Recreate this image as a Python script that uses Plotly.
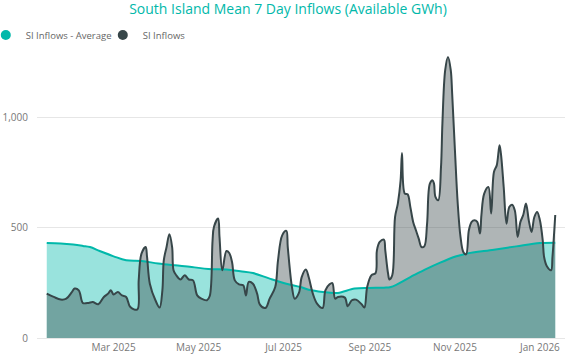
import plotly.graph_objects as go

# ---- data ----
inflow_dates = [
    "2025-01-12", "2025-01-17", "2025-01-22", "2025-01-26", "2025-01-30", "2025-02-01",
    "2025-02-04", "2025-02-06", "2025-02-07", "2025-02-11", "2025-02-14", "2025-02-18",
    "2025-02-22", "2025-02-25", "2025-02-27", "2025-03-01", "2025-03-04", "2025-03-07",
    "2025-03-10", "2025-03-13", "2025-03-18", "2025-03-19", "2025-03-21", "2025-03-24",
    "2025-03-25", "2025-03-27", "2025-03-31", "2025-04-03", "2025-04-05", "2025-04-06",
    "2025-04-08", "2025-04-10", "2025-04-12", "2025-04-13", "2025-04-15", "2025-04-18",
    "2025-04-21", "2025-04-24", "2025-04-27", "2025-04-30", "2025-05-03", "2025-05-07",
    "2025-05-09", "2025-05-11", "2025-05-12", "2025-05-15", "2025-05-16", "2025-05-18",
    "2025-05-21", "2025-05-23", "2025-05-25", "2025-05-27", "2025-05-30", "2025-06-02",
    "2025-06-04", "2025-06-06", "2025-06-09", "2025-06-12", "2025-06-14", "2025-06-18",
    "2025-06-21", "2025-06-25", "2025-06-27", "2025-06-30", "2025-07-03", "2025-07-04",
    "2025-07-07", "2025-07-09", "2025-07-12", "2025-07-14", "2025-07-17", "2025-07-19",
    "2025-07-22", "2025-07-25", "2025-07-29", "2025-07-31", "2025-08-03", "2025-08-05",
    "2025-08-07", "2025-08-09", "2025-08-14", "2025-08-16", "2025-08-19", "2025-08-22",
    "2025-08-26", "2025-08-28", "2025-08-30", "2025-09-02", "2025-09-05", "2025-09-06",
    "2025-09-08", "2025-09-11", "2025-09-12", "2025-09-14", "2025-09-15", "2025-09-17",
    "2025-09-19", "2025-09-21", "2025-09-23", "2025-09-24", "2025-09-26", "2025-09-28",
    "2025-09-30", "2025-10-02", "2025-10-04", "2025-10-06", "2025-10-08", "2025-10-10",
    "2025-10-12", "2025-10-14", "2025-10-16", "2025-10-17", "2025-10-18", "2025-10-20",
    "2025-10-22", "2025-10-23", "2025-10-25", "2025-10-27", "2025-10-29", "2025-10-30",
    "2025-11-01", "2025-11-03", "2025-11-05", "2025-11-07", "2025-11-09", "2025-11-11",
    "2025-11-13", "2025-11-15", "2025-11-17", "2025-11-19", "2025-11-20", "2025-11-22",
    "2025-11-25", "2025-11-27", "2025-11-29", "2025-12-01", "2025-12-03", "2025-12-04",
    "2025-12-06", "2025-12-08", "2025-12-10", "2025-12-12", "2025-12-14", "2025-12-16",
    "2025-12-18", "2025-12-20", "2025-12-22", "2025-12-24", "2025-12-26", "2025-12-28",
    "2025-12-30", "2026-01-01", "2026-01-03", "2026-01-04", "2026-01-06", "2026-01-09",
    "2026-01-10", "2026-01-12",
]
inflow_values = [
    201, 186, 174, 178, 208, 224,
    216, 171, 158, 159, 163, 153,
    186, 201, 216, 197, 208, 193,
    186, 140, 129, 261, 382, 412,
    367, 246, 171, 138, 216, 352,
    412, 470, 412, 307, 284, 265,
    284, 265, 261, 193, 178, 171,
    190, 440, 503, 541, 458, 307,
    394, 385, 344, 261, 243, 239,
    193, 254, 246, 201, 151, 136,
    178, 231, 352, 465, 485, 412,
    231, 178, 204, 276, 310, 276,
    201, 156, 136, 216, 243, 249,
    178, 186, 183, 144, 171, 174,
    153, 138, 231, 284, 294, 397,
    435, 446, 397, 292, 265, 284,
    548, 609, 714, 838, 654, 651,
    593, 526, 488, 450, 412, 415,
    518, 699, 714, 699, 639, 624,
    775, 971, 1213, 1273, 1213, 1107,
    850, 609, 458, 390, 379, 488,
    526, 533, 526, 473, 557, 654,
    684, 564, 752, 782, 873, 835,
    684, 518, 593, 604, 578, 458,
    526, 557, 609, 533, 480, 548,
    571, 533, 443, 367, 325, 307,
    367, 557,
]

avg_dates = [
    "2025-01-12", "2025-01-22", "2025-01-31", "2025-02-07", "2025-02-12", "2025-02-19",
    "2025-03-01", "2025-03-10", "2025-03-21", "2025-04-02", "2025-04-14", "2025-04-26",
    "2025-05-08", "2025-05-21", "2025-05-31", "2025-06-09", "2025-06-21", "2025-07-03",
    "2025-07-13", "2025-07-21", "2025-08-02", "2025-08-09", "2025-08-21", "2025-08-31",
    "2025-09-11", "2025-09-16", "2025-09-30", "2025-10-12", "2025-10-21", "2025-11-02",
    "2025-11-09", "2025-11-29", "2025-12-15", "2026-01-01", "2026-01-12",
]
avg_values = [
    430, 428, 423, 417, 412, 394,
    370, 352, 349, 337, 329, 322,
    312, 310, 302, 294, 269, 246,
    231, 216, 206, 204, 224, 227,
    228, 231, 276, 314, 340, 370,
    382, 400, 415, 430, 432,
]

series_names = ["SI Inflows - Average", "SI Inflows"]
title_text = "South Island Mean 7 Day Inflows (Available GWh)"

TEAL = "#01B8AA"
DARK = "#374649"
FONT = "Open Sans"

fig = go.Figure()
# fills
fig.add_trace(go.Scatter(x=avg_dates, y=avg_values, mode="lines", fill="tozeroy",
                         fillcolor="rgba(1,184,170,0.4)", line=dict(width=0, shape="spline"),
                         showlegend=False, hoverinfo="skip"))
fig.add_trace(go.Scatter(x=inflow_dates, y=inflow_values, mode="lines", fill="tozeroy",
                         fillcolor="rgba(55,70,73,0.4)", line=dict(width=0, shape="spline"),
                         showlegend=False, hoverinfo="skip"))
# lines
fig.add_trace(go.Scatter(x=avg_dates, y=avg_values, mode="lines",
                         line=dict(color=TEAL, width=2, shape="spline"),
                         name=series_names[0], showlegend=False))
fig.add_trace(go.Scatter(x=inflow_dates, y=inflow_values, mode="lines",
                         line=dict(color=DARK, width=2, shape="spline"),
                         name=series_names[1], showlegend=False))
# legend entries
for nm, col in zip(series_names, [TEAL, DARK]):
    fig.add_trace(go.Scatter(x=[None], y=[None], mode="markers", name=nm,
                             marker=dict(color=col, size=10, symbol="circle")))

fig.update_layout(
    width=570, height=360,
    margin=dict(l=37, r=5, t=51, b=22, autoexpand=False),
    paper_bgcolor="white", plot_bgcolor="white",
    font=dict(family=FONT, color="#777777", size=10),
    title=dict(text=title_text, x=288 / 570, xanchor="center", y=1 - 9.5 / 360,
               yanchor="middle", font=dict(family=FONT, size=14, color=TEAL)),
    legend=dict(orientation="h", xref="paper", yref="paper", x=-0.097, xanchor="left",
                y=1.0557, yanchor="middle", font=dict(size=9.5, color="#666666"),
                itemwidth=30, entrywidth=72, traceorder="normal"),
    xaxis=dict(type="date", range=["2025-01-05", "2026-01-19"], tickformat="%b %Y",
               dtick="M2", tick0="2025-03-01", showgrid=False, ticks="", zeroline=False,
               showline=True, linecolor="#E6E6E6", linewidth=1,
               tickfont=dict(size=10, color="#777777")),
    yaxis=dict(range=[0, 1300], dtick=500, tickformat=",", showgrid=True,
               gridcolor="#E6E6E6", zeroline=False, ticks="", ticklabelstandoff=8,
               tickfont=dict(size=10, color="#777777")),
)

fig.write_html("out.html", config={"displayModeBar": False},
               post_script="document.body.style.margin='0';document.body.style.padding='0';")
